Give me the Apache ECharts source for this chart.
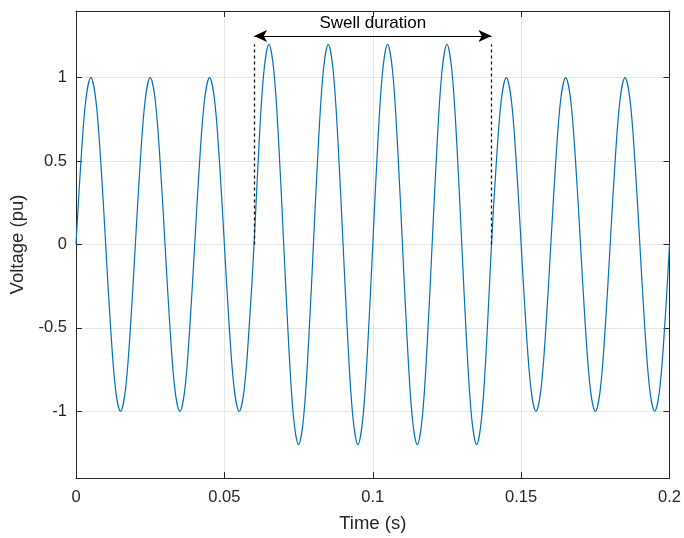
<!DOCTYPE html>
<html>
<head>
<meta charset="utf-8">
<script src="https://cdn.jsdelivr.net/npm/echarts@6/dist/echarts.min.js"></script>
<style>html,body{margin:0;padding:0;background:#fff;}#c{width:684px;height:538px;}</style>
</head>
<body>
<div id="c"></div>
<script>
// Sample spacing: 30 degrees of a 50 Hz cycle
const sampleStep = 1 / 600;
// Voltage read at each sample (pu): 3 normal cycles, 4 swell cycles, 3 normal cycles
const volts = [
  0, 0.5, 0.87, 1, 0.87, 0.5, 0, -0.5, -0.87, -1, -0.87, -0.5,
  0, 0.5, 0.87, 1, 0.87, 0.5, 0, -0.5, -0.87, -1, -0.87, -0.5,
  0, 0.5, 0.87, 1, 0.87, 0.5, 0, -0.5, -0.87, -1, -0.87, -0.5,
  0, 0.6, 1.04, 1.2, 1.04, 0.6, 0, -0.6, -1.04, -1.2, -1.04, -0.6,
  0, 0.6, 1.04, 1.2, 1.04, 0.6, 0, -0.6, -1.04, -1.2, -1.04, -0.6,
  0, 0.6, 1.04, 1.2, 1.04, 0.6, 0, -0.6, -1.04, -1.2, -1.04, -0.6,
  0, 0.6, 1.04, 1.2, 1.04, 0.6, 0, -0.6, -1.04, -1.2, -1.04, -0.6,
  0, 0.5, 0.87, 1, 0.87, 0.5, 0, -0.5, -0.87, -1, -0.87, -0.5,
  0, 0.5, 0.87, 1, 0.87, 0.5, 0, -0.5, -0.87, -1, -0.87, -0.5,
  0, 0.5, 0.87, 1, 0.87, 0.5, 0, -0.5, -0.87, -1, -0.87, -0.5,
  0
];
const xTicks = [0, 0.05, 0.1, 0.15, 0.2];
const yTicks = [-1, -0.5, 0, 0.5, 1];
const swellStart = 0.06;
const swellEnd = 0.14;
const arrowLevel = 1.25;
const markerTop = 1.2;
const annotationText = 'Swell duration';

const data = volts.map((v, i) => [i * sampleStep, v]);

const font = 'Liberation Sans, Arial, Helvetica, sans-serif';
const axisColor = '#262626';
const gridColor = '#e6e6e6';

const chart = echarts.init(document.getElementById('c'), null, {renderer: 'canvas'});
const baseX = {
  type: 'value', min: 0, max: 0.2, interval: 0.05,
  axisLine: {show: true, onZero: false, lineStyle: {color: axisColor, width: 1}},
  axisTick: {show: true, inside: true, length: 6, lineStyle: {color: axisColor}},
};
const baseY = {
  type: 'value', min: -1.4, max: 1.4,
  axisLine: {show: true, onZero: false, lineStyle: {color: axisColor, width: 1}},
  axisTick: {show: true, inside: true, length: 6, customValues: yTicks, lineStyle: {color: axisColor}},
};
chart.setOption({
  animation: false,
  backgroundColor: '#fff',
  grid: {left: 76, right: 13, top: 11, bottom: 58, containLabel: false},
  xAxis: [
    Object.assign({}, baseX, {
      position: 'bottom',
      name: 'Time (s)', nameLocation: 'middle', nameGap: 36,
      nameTextStyle: {fontFamily: font, fontSize: 18.5, color: axisColor},
      axisLabel: {show: true, margin: 11, fontFamily: font, fontSize: 16.5, color: axisColor,
        customValues: xTicks, formatter: v => String(+v.toFixed(2))},
      splitLine: {show: true, lineStyle: {color: gridColor, width: 1}}
    }),
    Object.assign({}, baseX, {
      position: 'top', axisLabel: {show: false}, splitLine: {show: false}
    })
  ],
  yAxis: [
    Object.assign({}, baseY, {
      position: 'left',
      name: 'Voltage (pu)', nameLocation: 'middle', nameGap: 45, nameRotate: 90,
      nameTextStyle: {fontFamily: font, fontSize: 18.5, color: axisColor},
      axisLabel: {show: true, margin: 9, fontFamily: font, fontSize: 16.5, color: axisColor,
        customValues: yTicks, formatter: v => String(+v.toFixed(2))},
      splitLine: {show: true, lineStyle: {color: gridColor, width: 1}}
    }),
    Object.assign({}, baseY, {
      position: 'right', axisLabel: {show: false}, splitLine: {show: false}
    })
  ],
  series: [{
    type: 'line',
    data: data,
    xAxisIndex: 0, yAxisIndex: 0,
    smooth: 0.35,
    showSymbol: false,
    symbol: 'none',
    lineStyle: {color: '#0072BD', width: 1.2},
    silent: true,
    markLine: {
      silent: true,
      animation: false,
      data: [
        [
          {coord: [swellStart, arrowLevel], symbol: 'arrow', symbolSize: [9, 13],
            lineStyle: {color: '#000', width: 1, type: 'solid'},
            label: {show: true, position: 'middle', formatter: annotationText, distance: 4,
              fontFamily: font, fontSize: 17, color: '#000'}},
          {coord: [swellEnd, arrowLevel], symbol: 'arrow', symbolSize: [9, 13]}
        ],
        [
          {coord: [swellStart, 0], symbol: 'none', lineStyle: {color: '#111', width: 1.3, type: [3, 3]}, label: {show: false}},
          {coord: [swellStart, markerTop], symbol: 'none'}
        ],
        [
          {coord: [swellEnd, 0], symbol: 'none', lineStyle: {color: '#111', width: 1.3, type: [3, 3]}, label: {show: false}},
          {coord: [swellEnd, markerTop], symbol: 'none'}
        ]
      ]
    }
  }]
});
</script>
</body>
</html>
